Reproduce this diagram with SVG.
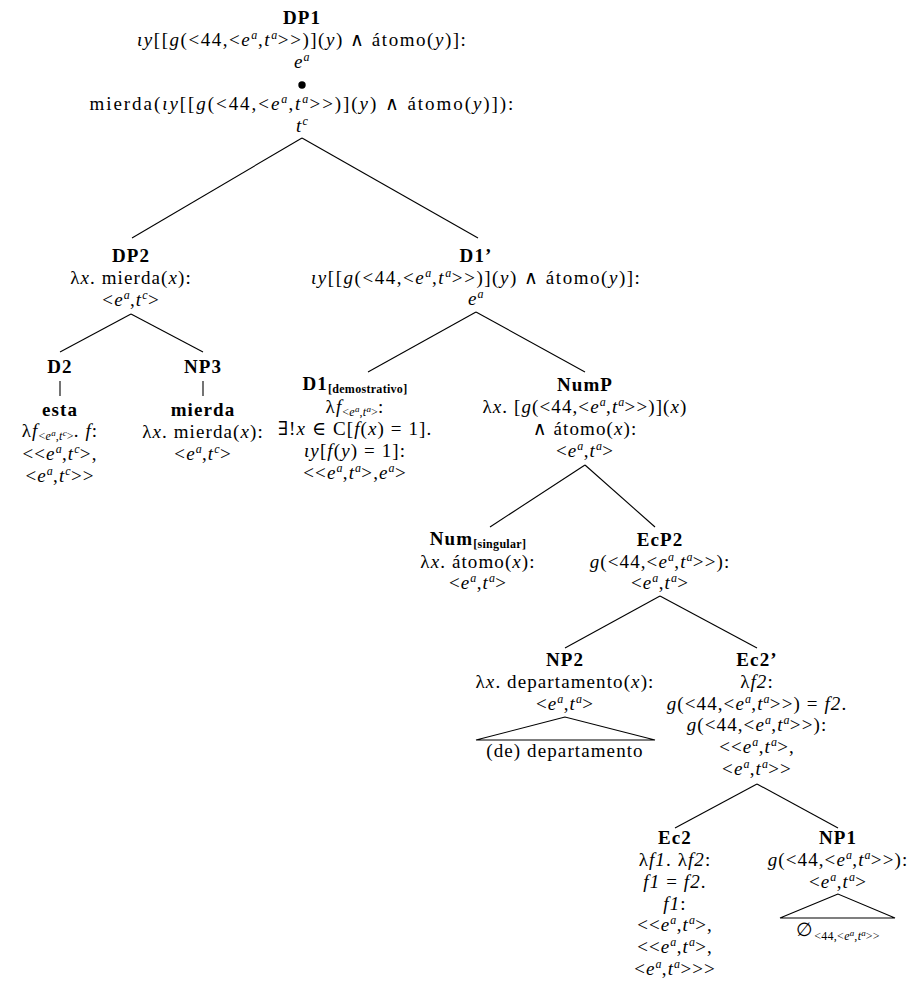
<svg xmlns="http://www.w3.org/2000/svg" width="917" height="994" viewBox="0 0 917 994">
<style>
text { font-family: "Liberation Serif", "DejaVu Serif", serif; font-size: 19px; letter-spacing: 1.1px; text-anchor: middle; fill: #000; }
.b { font-weight: bold; }
.i { font-style: italic; }
.s { font-size: 12px; letter-spacing: 0.3px; }
.ss { font-size: 9px; letter-spacing: 0; }
.e line, .e polygon { stroke: #000; stroke-width: 1.1; fill: none; }
</style>
<rect width="917" height="994" fill="#fff"/>
<g id="connectors" class="e">
<line x1="302" y1="138" x2="132" y2="238"/>
<line x1="302" y1="138" x2="478" y2="238"/>
<line x1="131" y1="314" x2="60" y2="352"/>
<line x1="131" y1="314" x2="203" y2="352"/>
<line x1="60" y1="381" x2="60" y2="396"/>
<line x1="203" y1="381" x2="203" y2="396"/>
<line x1="476" y1="312" x2="368" y2="372"/>
<line x1="476" y1="312" x2="585" y2="372"/>
<line x1="585" y1="465" x2="490" y2="527"/>
<line x1="585" y1="465" x2="655" y2="527"/>
<line x1="660" y1="596" x2="565" y2="648"/>
<line x1="660" y1="596" x2="757" y2="648"/>
<line x1="757" y1="784" x2="675" y2="828"/>
<line x1="757" y1="784" x2="838" y2="828"/>
<polygon points="565,717 476,740 655,740"/>
<polygon points="838,894 780,918 895,918"/>
</g>
<g id="DP1">
<text x="302" y="24" class="b">DP1</text>
<text x="302" y="46" textLength="330"><tspan class="i">ιy</tspan>[[<tspan class="i">g</tspan>(&lt;44,&lt;<tspan class="i">e</tspan><tspan class="s i" dy="-7">a</tspan><tspan dy="7">,</tspan><tspan class="i">t</tspan><tspan class="s i" dy="-7">a</tspan><tspan dy="7">&gt;&gt;)](</tspan><tspan class="i">y</tspan>) ∧ átomo(<tspan class="i">y</tspan>)]:</text>
<text x="302" y="68"><tspan class="i">e</tspan><tspan class="s i" dy="-7">a</tspan></text>
<circle cx="302" cy="85" r="3.7" fill="#000"/>
<text x="302" y="110" textLength="425">mierda(<tspan class="i">ιy</tspan>[[<tspan class="i">g</tspan>(&lt;44,&lt;<tspan class="i">e</tspan><tspan class="s i" dy="-7">a</tspan><tspan dy="7">,</tspan><tspan class="i">t</tspan><tspan class="s i" dy="-7">a</tspan><tspan dy="7">&gt;&gt;)](</tspan><tspan class="i">y</tspan>) ∧ átomo(<tspan class="i">y</tspan>)]):</text>
<text x="302" y="132"><tspan class="i">t</tspan><tspan class="s i" dy="-7">c</tspan></text>
</g>
<g id="DP2">
<text x="131" y="262" class="b">DP2</text>
<text x="131" y="284">λ<tspan class="i">x</tspan>. mierda(<tspan class="i">x</tspan>):</text>
<text x="131" y="306">&lt;<tspan class="i">e</tspan><tspan class="s i" dy="-7">a</tspan><tspan dy="7">,</tspan><tspan class="i">t</tspan><tspan class="s i" dy="-7">c</tspan><tspan dy="7">&gt;</tspan></text>
</g>
<g id="D2">
<text x="60" y="373" class="b">D2</text>
<text x="60" y="416" class="b">esta</text>
<text x="60" y="437">λ<tspan class="i">f</tspan><tspan class="s" dy="3">&lt;</tspan><tspan class="s i">e</tspan><tspan class="ss i" dy="-4">a</tspan><tspan class="s" dy="4">,</tspan><tspan class="s i">t</tspan><tspan class="ss i" dy="-4">c</tspan><tspan class="s" dy="4">&gt;</tspan><tspan dy="-3">. </tspan><tspan class="i">f</tspan>:</text>
<text x="60" y="460">&lt;&lt;<tspan class="i">e</tspan><tspan class="s i" dy="-7">a</tspan><tspan dy="7">,</tspan><tspan class="i">t</tspan><tspan class="s i" dy="-7">c</tspan><tspan dy="7">&gt;,</tspan></text>
<text x="60" y="482">&lt;<tspan class="i">e</tspan><tspan class="s i" dy="-7">a</tspan><tspan dy="7">,</tspan><tspan class="i">t</tspan><tspan class="s i" dy="-7">c</tspan><tspan dy="7">&gt;&gt;</tspan></text>
</g>
<g id="NP3">
<text x="203" y="373" class="b">NP3</text>
<text x="203" y="416" class="b">mierda</text>
<text x="203" y="438">λ<tspan class="i">x</tspan>. mierda(<tspan class="i">x</tspan>):</text>
<text x="203" y="460">&lt;<tspan class="i">e</tspan><tspan class="s i" dy="-7">a</tspan><tspan dy="7">,</tspan><tspan class="i">t</tspan><tspan class="s i" dy="-7">c</tspan><tspan dy="7">&gt;</tspan></text>
</g>
<g id="D1p">
<text x="476" y="262" class="b">D1’</text>
<text x="476" y="284" textLength="330"><tspan class="i">ιy</tspan>[[<tspan class="i">g</tspan>(&lt;44,&lt;<tspan class="i">e</tspan><tspan class="s i" dy="-7">a</tspan><tspan dy="7">,</tspan><tspan class="i">t</tspan><tspan class="s i" dy="-7">a</tspan><tspan dy="7">&gt;&gt;)](</tspan><tspan class="i">y</tspan>) ∧ átomo(<tspan class="i">y</tspan>)]:</text>
<text x="476" y="305"><tspan class="i">e</tspan><tspan class="s i" dy="-7">a</tspan></text>
</g>
<g id="D1">
<text x="355" y="390" class="b">D1<tspan class="s" dy="3">[demostrativo]</tspan></text>
<text x="355" y="413">λ<tspan class="i">f</tspan><tspan class="s" dy="3">&lt;</tspan><tspan class="s i">e</tspan><tspan class="ss i" dy="-4">a</tspan><tspan class="s" dy="4">,</tspan><tspan class="s i">t</tspan><tspan class="ss i" dy="-4">a</tspan><tspan class="s" dy="4">&gt;</tspan><tspan dy="-3">:</tspan></text>
<text x="355" y="435">∃!<tspan class="i">x</tspan> ∈ C[<tspan class="i">f</tspan>(<tspan class="i">x</tspan>) = 1].</text>
<text x="355" y="457"><tspan class="i">ιy</tspan>[<tspan class="i">f</tspan>(<tspan class="i">y</tspan>) = 1]:</text>
<text x="355" y="479">&lt;&lt;<tspan class="i">e</tspan><tspan class="s i" dy="-7">a</tspan><tspan dy="7">,</tspan><tspan class="i">t</tspan><tspan class="s i" dy="-7">a</tspan><tspan dy="7">&gt;,</tspan><tspan class="i">e</tspan><tspan class="s i" dy="-7">a</tspan><tspan dy="7">&gt;</tspan></text>
</g>
<g id="NumP">
<text x="585" y="391" class="b">NumP</text>
<text x="585" y="413">λ<tspan class="i">x</tspan>. [<tspan class="i">g</tspan>(&lt;44,&lt;<tspan class="i">e</tspan><tspan class="s i" dy="-7">a</tspan><tspan dy="7">,</tspan><tspan class="i">t</tspan><tspan class="s i" dy="-7">a</tspan><tspan dy="7">&gt;&gt;)](</tspan><tspan class="i">x</tspan>)</text>
<text x="585" y="435">∧ átomo(<tspan class="i">x</tspan>):</text>
<text x="585" y="457">&lt;<tspan class="i">e</tspan><tspan class="s i" dy="-7">a</tspan><tspan dy="7">,</tspan><tspan class="i">t</tspan><tspan class="s i" dy="-7">a</tspan><tspan dy="7">&gt;</tspan></text>
</g>
<g id="Num">
<text x="478" y="545" class="b">Num<tspan class="s" dy="3">[singular]</tspan></text>
<text x="478" y="568">λ<tspan class="i">x</tspan>. átomo(<tspan class="i">x</tspan>):</text>
<text x="478" y="589">&lt;<tspan class="i">e</tspan><tspan class="s i" dy="-7">a</tspan><tspan dy="7">,</tspan><tspan class="i">t</tspan><tspan class="s i" dy="-7">a</tspan><tspan dy="7">&gt;</tspan></text>
</g>
<g id="EcP2">
<text x="660" y="546" class="b">EcP2</text>
<text x="660" y="568"><tspan class="i">g</tspan>(&lt;44,&lt;<tspan class="i">e</tspan><tspan class="s i" dy="-7">a</tspan><tspan dy="7">,</tspan><tspan class="i">t</tspan><tspan class="s i" dy="-7">a</tspan><tspan dy="7">&gt;&gt;):</tspan></text>
<text x="660" y="589">&lt;<tspan class="i">e</tspan><tspan class="s i" dy="-7">a</tspan><tspan dy="7">,</tspan><tspan class="i">t</tspan><tspan class="s i" dy="-7">a</tspan><tspan dy="7">&gt;</tspan></text>
</g>
<g id="NP2">
<text x="565" y="666" class="b">NP2</text>
<text x="565" y="688">λ<tspan class="i">x</tspan>. departamento(<tspan class="i">x</tspan>):</text>
<text x="565" y="710">&lt;<tspan class="i">e</tspan><tspan class="s i" dy="-7">a</tspan><tspan dy="7">,</tspan><tspan class="i">t</tspan><tspan class="s i" dy="-7">a</tspan><tspan dy="7">&gt;</tspan></text>
<text x="565" y="757">(de) departamento</text>
</g>
<g id="Ec2p">
<text x="757" y="666" class="b">Ec2’</text>
<text x="757" y="688">λ<tspan class="i">f2</tspan>:</text>
<text x="757" y="710"><tspan class="i">g</tspan>(&lt;44,&lt;<tspan class="i">e</tspan><tspan class="s i" dy="-7">a</tspan><tspan dy="7">,</tspan><tspan class="i">t</tspan><tspan class="s i" dy="-7">a</tspan><tspan dy="7">&gt;&gt;) = </tspan><tspan class="i">f2</tspan>.</text>
<text x="757" y="731"><tspan class="i">g</tspan>(&lt;44,&lt;<tspan class="i">e</tspan><tspan class="s i" dy="-7">a</tspan><tspan dy="7">,</tspan><tspan class="i">t</tspan><tspan class="s i" dy="-7">a</tspan><tspan dy="7">&gt;&gt;):</tspan></text>
<text x="757" y="753">&lt;&lt;<tspan class="i">e</tspan><tspan class="s i" dy="-7">a</tspan><tspan dy="7">,</tspan><tspan class="i">t</tspan><tspan class="s i" dy="-7">a</tspan><tspan dy="7">&gt;,</tspan></text>
<text x="757" y="775">&lt;<tspan class="i">e</tspan><tspan class="s i" dy="-7">a</tspan><tspan dy="7">,</tspan><tspan class="i">t</tspan><tspan class="s i" dy="-7">a</tspan><tspan dy="7">&gt;&gt;</tspan></text>
</g>
<g id="Ec2">
<text x="675" y="844" class="b">Ec2</text>
<text x="675" y="866">λ<tspan class="i">f1</tspan>. λ<tspan class="i">f2</tspan>:</text>
<text x="675" y="888"><tspan class="i">f1</tspan> = <tspan class="i">f2</tspan>.</text>
<text x="675" y="910"><tspan class="i">f1</tspan>:</text>
<text x="675" y="931">&lt;&lt;<tspan class="i">e</tspan><tspan class="s i" dy="-7">a</tspan><tspan dy="7">,</tspan><tspan class="i">t</tspan><tspan class="s i" dy="-7">a</tspan><tspan dy="7">&gt;,</tspan></text>
<text x="675" y="953">&lt;&lt;<tspan class="i">e</tspan><tspan class="s i" dy="-7">a</tspan><tspan dy="7">,</tspan><tspan class="i">t</tspan><tspan class="s i" dy="-7">a</tspan><tspan dy="7">&gt;,</tspan></text>
<text x="675" y="975">&lt;<tspan class="i">e</tspan><tspan class="s i" dy="-7">a</tspan><tspan dy="7">,</tspan><tspan class="i">t</tspan><tspan class="s i" dy="-7">a</tspan><tspan dy="7">&gt;&gt;&gt;</tspan></text>
</g>
<g id="NP1">
<text x="838" y="844" class="b">NP1</text>
<text x="838" y="866"><tspan class="i">g</tspan>(&lt;44,&lt;<tspan class="i">e</tspan><tspan class="s i" dy="-7">a</tspan><tspan dy="7">,</tspan><tspan class="i">t</tspan><tspan class="s i" dy="-7">a</tspan><tspan dy="7">&gt;&gt;):</tspan></text>
<text x="838" y="888">&lt;<tspan class="i">e</tspan><tspan class="s i" dy="-7">a</tspan><tspan dy="7">,</tspan><tspan class="i">t</tspan><tspan class="s i" dy="-7">a</tspan><tspan dy="7">&gt;</tspan></text>
<text x="838" y="936">∅<tspan class="s" dy="4">&lt;44,&lt;</tspan><tspan class="s i">e</tspan><tspan class="ss i" dy="-4">a</tspan><tspan class="s" dy="4">,</tspan><tspan class="s i">t</tspan><tspan class="ss i" dy="-4">a</tspan><tspan class="s" dy="4">&gt;&gt;</tspan></text>
</g>
</svg>
